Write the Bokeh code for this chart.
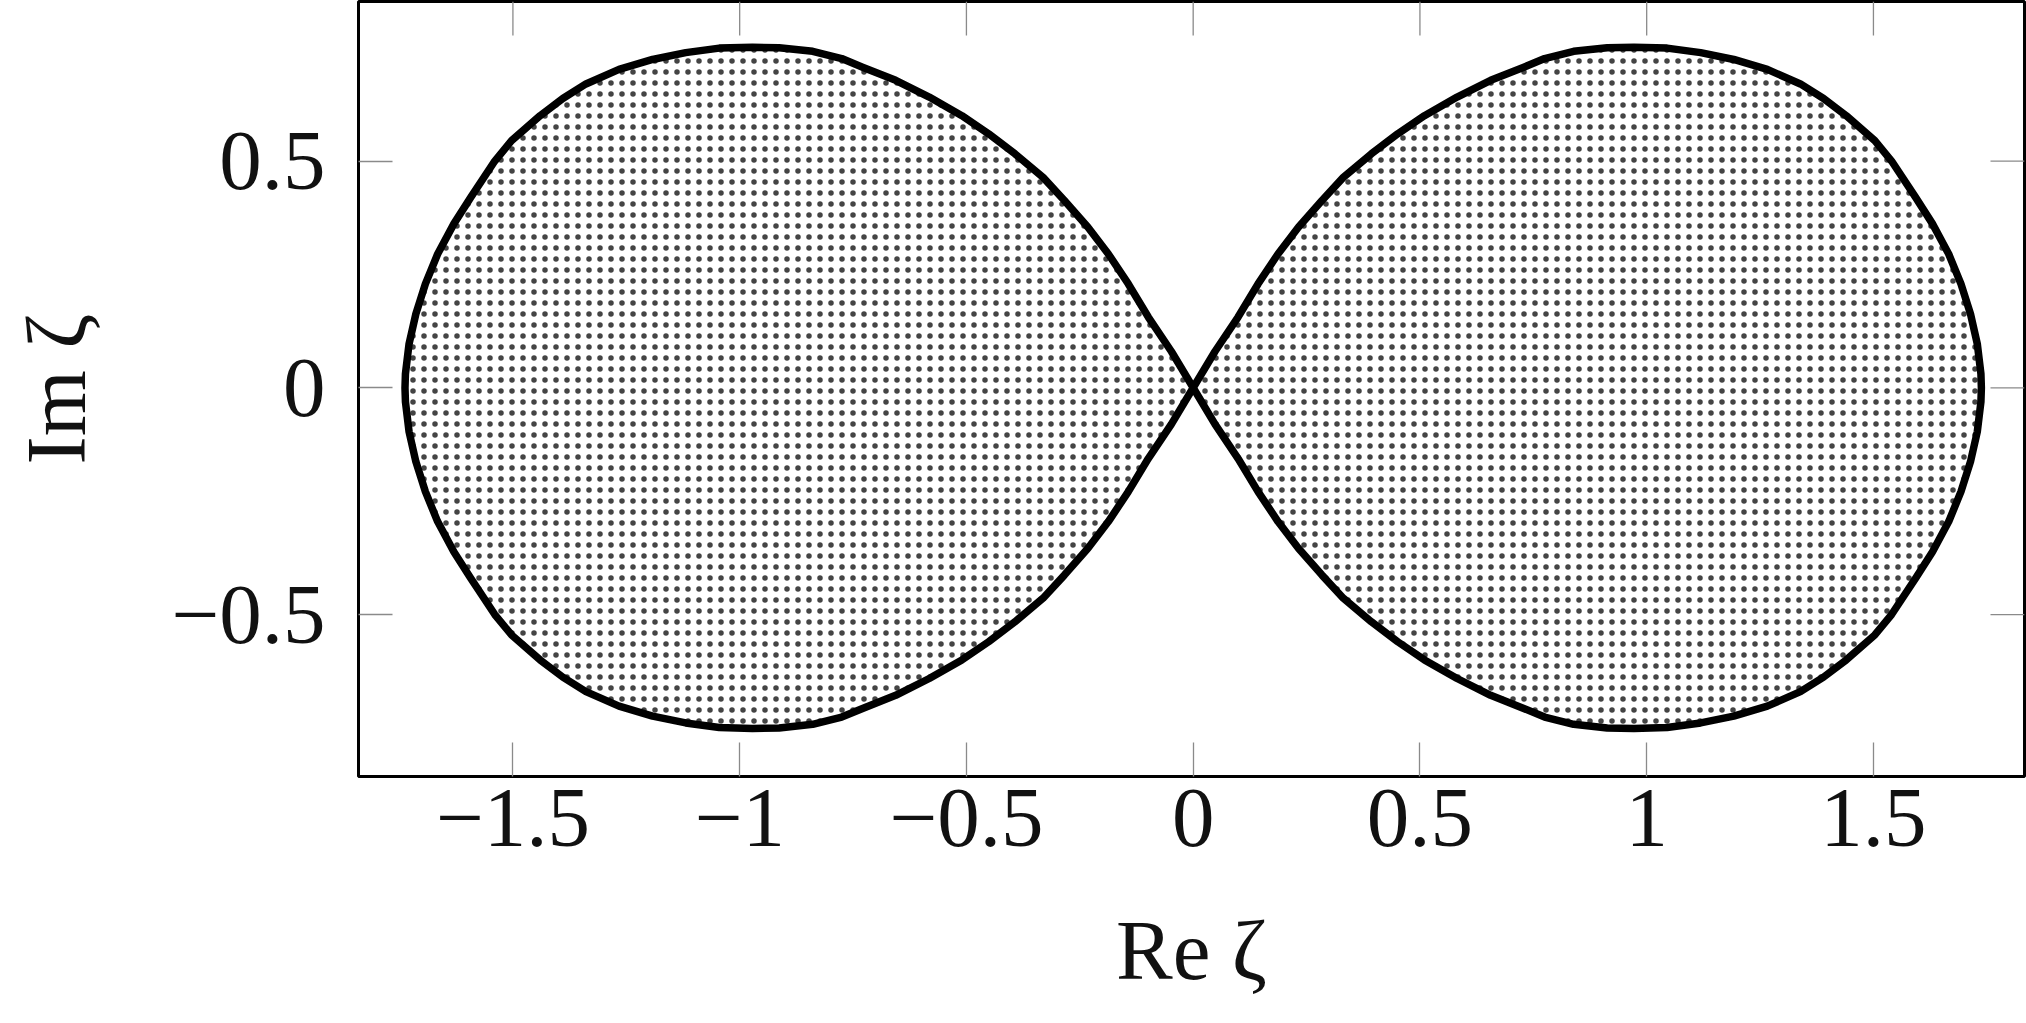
from bokeh.plotting import figure
from bokeh.models import Range1d, FixedTicker
from bokeh.embed import file_html
from bokeh.resources import INLINE

# Boundary of the upper-right quadrant (Re, Im),
# running from the crossing point at the origin over the top to the right tip.
QUAD_RE = [0.000, 0.048, 0.099, 0.143, 0.187, 0.232, 0.284, 0.331, 0.393, 0.451,
           0.510, 0.582, 0.656, 0.729, 0.775, 0.839, 0.913, 0.972, 1.045, 1.119,
           1.192, 1.266, 1.339, 1.390, 1.440, 1.503, 1.540, 1.593, 1.630, 1.666,
           1.693, 1.714, 1.729, 1.737, 1.738]
QUAD_IM = [0.000, 0.080, 0.156, 0.229, 0.295, 0.354, 0.413, 0.464, 0.516, 0.560,
           0.600, 0.641, 0.678, 0.707, 0.726, 0.742, 0.750, 0.751, 0.749, 0.739,
           0.724, 0.702, 0.670, 0.638, 0.600, 0.545, 0.500, 0.420, 0.362, 0.295,
           0.229, 0.163, 0.097, 0.031, 0.000]

X_TICKS = [-1.5, -1.0, -0.5, 0.0, 0.5, 1.0, 1.5]
X_TICK_LABELS = ["\u22121.5", "\u22121", "\u22120.5", "0", "0.5", "1", "1.5"]
Y_TICKS = [-0.5, 0.0, 0.5]
Y_TICK_LABELS = ["\u22120.5", "0", "0.5"]

X_LABEL = "Re \u03b6"
Y_LABEL = "Im \u03b6"

# right lobe: upper half outwards, lower half back (the curve is symmetric)
right_re = QUAD_RE + QUAD_RE[::-1][1:]
right_im = QUAD_IM + [-v for v in QUAD_IM[::-1][1:]]
left_re = [-v for v in right_re]
left_im = list(right_im)

FONT = "Liberation Serif"
FS = "85px"
TXT = "#111111"
TICK_COLOR = "#8a8a8a"
TICK_PX = 34

x_rng = Range1d(-1.8405, 1.8331)
y_rng = Range1d(-0.8571, 0.8518)
FRAME_W, FRAME_H = 1666, 775

p = figure(frame_width=FRAME_W, frame_height=FRAME_H,
           x_range=x_rng, y_range=y_rng,
           output_backend="svg", toolbar_location=None,
           min_border_left=358, min_border_right=2, min_border_top=1,
           min_border_bottom=240, background_fill_color="white",
           border_fill_color="white")
p.outline_line_color = "black"
p.outline_line_width = 3
p.grid.visible = False

for lobe_re, lobe_im in ((left_re, left_im), (right_re, right_im)):
    p.patch(lobe_re, lobe_im, fill_color=None, hatch_pattern="dot",
            hatch_scale=11, hatch_color="#444444", hatch_alpha=1.0,
            line_color="black", line_width=7.5, line_join="round")

def style_axis(ax, ticks, labels):
    ax.ticker = FixedTicker(ticks=ticks)
    ax.major_label_overrides = dict(zip(ticks, labels))
    ax.axis_line_color = None
    ax.minor_tick_line_color = None
    ax.major_tick_in = TICK_PX
    ax.major_tick_out = 0
    ax.major_tick_line_color = TICK_COLOR
    ax.major_tick_line_width = 1.3
    ax.major_label_text_font = FONT
    ax.major_label_text_font_size = FS
    ax.major_label_text_color = TXT
    ax.axis_label_text_font = FONT
    ax.axis_label_text_font_size = FS
    ax.axis_label_text_font_style = "normal"
    ax.axis_label_text_color = TXT

xb = p.xaxis[0]
style_axis(xb, X_TICKS, X_TICK_LABELS)
xb.axis_label = X_LABEL
xb.major_label_standoff = 13
xb.axis_label_standoff = 54

yl = p.yaxis[0]
style_axis(yl, Y_TICKS, Y_TICK_LABELS)
yl.axis_label = Y_LABEL
yl.major_label_standoff = 33
yl.axis_label_standoff = 65

# mirrored inward ticks on the top and right edges of the frame
dx = TICK_PX * (x_rng.end - x_rng.start) / FRAME_W
dy = TICK_PX * (y_rng.end - y_rng.start) / FRAME_H
p.segment(x0=X_TICKS, x1=X_TICKS,
          y0=[y_rng.end] * len(X_TICKS), y1=[y_rng.end - dy] * len(X_TICKS),
          line_color=TICK_COLOR, line_width=1.3)
p.segment(x0=[x_rng.end] * len(Y_TICKS), x1=[x_rng.end - dx] * len(Y_TICKS),
          y0=Y_TICKS, y1=Y_TICKS, line_color=TICK_COLOR, line_width=1.3)

open("out.html", "w").write(file_html(p, INLINE))
